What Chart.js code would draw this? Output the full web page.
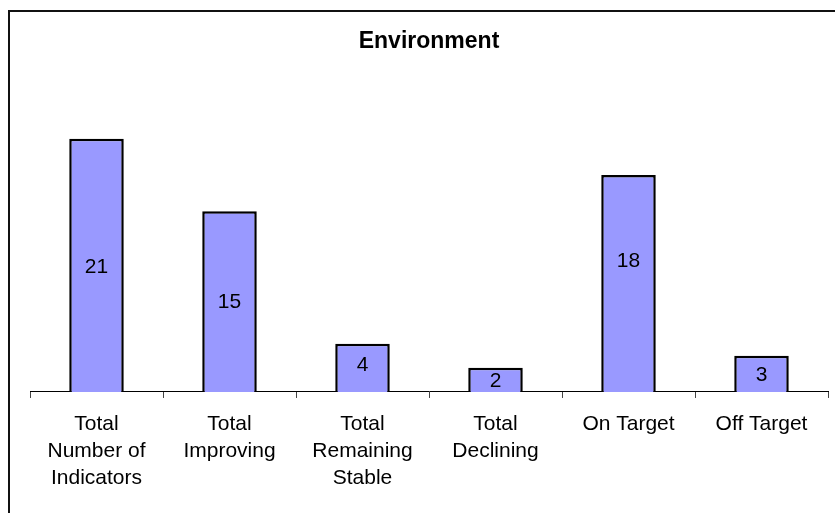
<!DOCTYPE html>
<html>
<head>
<meta charset="utf-8">
<script src="https://cdn.jsdelivr.net/npm/chart.js@4/dist/chart.umd.min.js"></script>
<style>
    html, body { margin: 0; padding: 0; background: #fff; }
    #wrap { width: 835px; height: 513px; position: relative; }
</style>
</head>
<body>
<div id="wrap"><canvas id="envChart" width="835" height="513"></canvas></div>
<script>
// indicator counts for the environment theme
const categories = [
    ['Total', 'Number of', 'Indicators'],
    ['Total', 'Improving'],
    ['Total', 'Remaining', 'Stable'],
    ['Total', 'Declining'],
    'On Target',
    'Off Target'
];
const counts = [21, 15, 4, 2, 18, 3];
const yMax = 25;

const fontFamily = '"Liberation Sans", Arial, sans-serif';

// frame around the chart (left and top edges fall inside the window)
const framePlugin = {
    id: 'frame',
    beforeDraw(chart) {
        const ctx = chart.ctx;
        ctx.save();
        ctx.strokeStyle = '#111';
        ctx.lineWidth = 2;
        ctx.beginPath();
        ctx.moveTo(9, chart.height + 2);
        ctx.lineTo(9, 11);
        ctx.lineTo(chart.width + 2, 11);
        ctx.stroke();
        ctx.restore();
    }
};

// value written inside each bar, around its middle; some labels were
// dragged up a little by hand, so each one can carry its own nudge
const barValuePlugin = {
    id: 'barValues',
    afterDatasetsDraw(chart, args, opts) {
        const ctx = chart.ctx;
        const meta = chart.getDatasetMeta(0);
        const nudge = opts.nudge || [];
        ctx.save();
        ctx.fillStyle = '#000';
        ctx.font = '21px ' + fontFamily;
        ctx.textAlign = 'center';
        ctx.textBaseline = 'middle';
        meta.data.forEach((bar, i) => {
            const mid = (bar.y + bar.base) / 2 + (nudge[i] || 0);
            ctx.fillText(String(counts[i]), bar.x, mid + 1);
        });
        ctx.restore();
    }
};

new Chart(document.getElementById('envChart'), {
    type: 'bar',
    data: {
        labels: categories,
        datasets: [{
            data: counts,
            backgroundColor: '#9999FF',
            borderColor: '#000',
            borderWidth: 2.5,
            categoryPercentage: 1,
            barPercentage: 0.41
        }]
    },
    options: {
        responsive: false,
        animation: false,
        layout: {
            padding: { left: 30, right: 7, top: 0, bottom: 8 }
        },
        plugins: {
            legend: { display: false },
            tooltip: { enabled: false },
            title: {
                display: true,
                text: 'Environment',
                color: '#000',
                font: { family: fontFamily, size: 23, weight: 'bold' },
                padding: { top: 28, bottom: 35 }
            },
            barValues: {
                nudge: [1, 0, -4, 0, -23, 0]
            }
        },
        scales: {
            x: {
                offset: true,
                grid: {
                    offset: true,
                    drawOnChartArea: false,
                    drawTicks: true,
                    tickLength: 6,
                    color: '#444'
                },
                border: { display: true, color: '#000', width: 1 },
                ticks: {
                    color: '#000',
                    padding: 13,
                    maxRotation: 0,
                    autoSkip: false,
                    font: { family: fontFamily, size: 21, lineHeight: 1.286 }
                }
            },
            y: {
                display: false,
                min: 0,
                max: yMax
            }
        }
    },
    plugins: [framePlugin, barValuePlugin]
});
</script>
</body>
</html>
